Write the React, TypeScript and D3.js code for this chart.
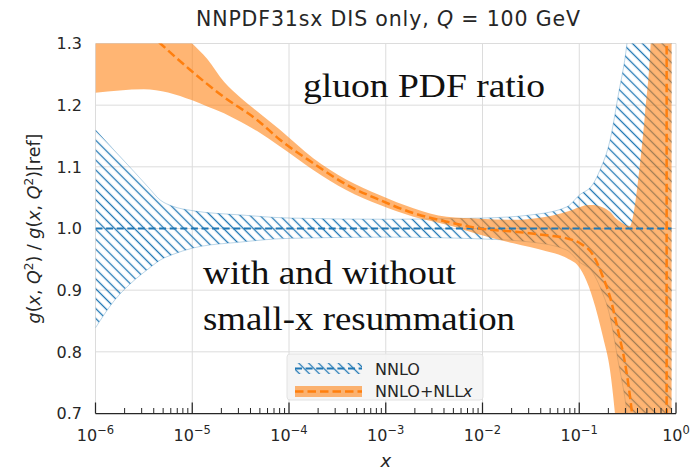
import React from "react";
import * as d3 from "d3";

// ---------- data ----------
// NNLO band (blue, hatched)
const nnloX = [1e-6, 1.58e-6, 2.51e-6, 3.55e-6, 4.68e-6, 6.31e-6, 1e-5, 3.16e-5, 1e-4, 1e-3, 1e-2, 3.16e-2, 7.41e-2, 1e-1, 1.4e-1, 1.64e-1, 2.08e-1, 2.51e-1, 3.11e-1, 4e-1, 9e-1];
const nnloHi = [1.16, 1.126, 1.092, 1.066, 1.046, 1.036, 1.029, 1.022, 1.017, 1.015, 1.017, 1.022, 1.035, 1.054, 1.073, 1.095, 1.143, 1.213, 1.3, 1.5, 3.0];
const nnloLo = [0.839, 0.884, 0.916, 0.935, 0.949, 0.958, 0.968, 0.978, 0.984, 0.986, 0.983, 0.978, 0.965, 0.946, 0.927, 0.905, 0.857, 0.787, 0.7, 0.5, -1.0];
const nnloCentralX = [1e-6, 9e-1];
const nnloCentral = [1.0, 1.0];

// NNLO+NLLx band (orange)
const resX = [1e-6, 3.16e-6, 1e-5, 1.43e-5, 2.13e-5, 3.16e-5, 4.68e-5, 8.07e-5, 1.78e-4, 3.94e-4, 8.73e-4, 1.93e-3, 4.27e-3, 9.42e-3, 2.09e-2, 4.57e-2, 7.41e-2, 1.02e-1, 1.26e-1, 1.39e-1, 1.76e-1, 2.08e-1, 2.34e-1, 2.77e-1, 3.35e-1, 3.51e-1, 4.25e-1, 4.79e-1, 5.47e-1, 9e-1];
const resHi = [1.46, 1.38, 1.3, 1.275, 1.238, 1.212, 1.19, 1.16, 1.114, 1.079, 1.054, 1.033, 1.019, 1.016, 1.014, 1.019, 1.027, 1.035, 1.038, 1.038, 1.034, 1.027, 1.018, 1.009, 1.004, 1.012, 1.106, 1.187, 1.3, 3.0];
const resLo = [1.22, 1.226, 1.208, 1.198, 1.187, 1.173, 1.158, 1.133, 1.095, 1.062, 1.038, 1.019, 1.006, 0.99, 0.976, 0.963, 0.952, 0.935, 0.905, 0.885, 0.824, 0.77, 0.7, 0.55, 0.4, 0.35, 0.2, 0.1, 0.0, -1.0];
const resCentralX = [1e-6, 4.68e-6, 9.55e-6, 2.09e-5, 4.68e-5, 8.07e-5, 1.78e-4, 3.94e-4, 8.73e-4, 1.93e-3, 4.27e-3, 9.42e-3, 2.09e-2, 4.57e-2, 7.41e-2, 1.02e-1, 1.39e-1, 1.76e-1, 2.08e-1, 2.51e-1, 2.97e-1, 3.35e-1, 3.51e-1, 4.47e-1, 6.31e-1, 7.98e-1, 8.02e-1, 9e-1];
const resCentral = [1.4, 1.3, 1.257, 1.214, 1.176, 1.144, 1.106, 1.071, 1.046, 1.025, 1.011, 1.0, 0.995, 0.989, 0.984, 0.976, 0.957, 0.921, 0.889, 0.835, 0.782, 0.727, 0.7, 0.45, 0.0, -5.0, 5.0, 3.0];

const xTickExps = [-6, -5, -4, -3, -2, -1, 0];
const yTicks = [0.7, 0.8, 0.9, 1.0, 1.1, 1.2, 1.3];
const minorMult = [2, 3, 4, 5, 6, 7, 8, 9];

const titleText = "NNPDF31sx DIS only, ";
const legendLabels = ["NNLO", "NNLO+NLL"];

// ---------- layout ----------
const W = 698, H = 473;
const L = 95.5, R = 676, T = 43.5, B = 413.5;
const BLUE = "#1f77b4";
const ORANGE = "#ff7f0e";
const SANS = "'DejaVu Sans', sans-serif";
const SERIF = "'Liberation Serif', 'DejaVu Serif', serif";

export default function App() {
  const x = d3.scaleLog().domain([1e-6, 1]).range([L, R]);
  const y = d3.scaleLinear().domain([0.7, 1.3]).range([B, T]);

  const area = (xs: number[], lo: number[], hi: number[]) =>
    d3.area<number>()
      .x((_, i) => x(xs[i]))
      .y0((_, i) => y(lo[i]))
      .y1((_, i) => y(hi[i]))
      .curve(d3.curveMonotoneX)(xs);
  const edge = (xs: number[], ys: number[]) =>
    d3.line<number>()
      .x((_, i) => x(xs[i]))
      .y((_, i) => y(ys[i]))
      .curve(d3.curveMonotoneX)(xs);

  const minorTicks: number[] = [];
  for (let e = -6; e < 0; e++) for (const m of minorMult) minorTicks.push(m * Math.pow(10, e));

  return (
    <svg width={W} height={H} style={{ display: "block", position: "absolute", left: 0, top: 0 }} fontFamily={SANS}>
      <defs>
        <clipPath id="plotClip">
          <rect x={L} y={T} width={R - L} height={B - T} />
        </clipPath>
        <pattern id="hatch" patternUnits="userSpaceOnUse" width={7} height={7} patternTransform="rotate(45)">
          <line x1={0} y1={3.5} x2={7} y2={3.5} stroke={BLUE} strokeWidth={1.3} />
        </pattern>
      </defs>
      <rect x={0} y={0} width={W} height={H} fill="#fff" />

      {/* grid */}
      <g stroke="#dcdcdc" strokeWidth={1}>
        {xTickExps.map((e) => (
          <line key={"gx" + e} x1={x(Math.pow(10, e))} x2={x(Math.pow(10, e))} y1={T} y2={B} />
        ))}
        {yTicks.map((v) => (
          <line key={"gy" + v} x1={L} x2={R} y1={y(v)} y2={y(v)} />
        ))}
      </g>

      <g clipPath="url(#plotClip)">
        {/* NNLO hatched band */}
        <path d={area(nnloX, nnloLo, nnloHi) || ""} fill="url(#hatch)" stroke="none" />
        <path d={edge(nnloX, nnloHi) || ""} fill="none" stroke={BLUE} strokeOpacity={0.3} strokeWidth={1} />
        <path d={edge(nnloX, nnloLo) || ""} fill="none" stroke={BLUE} strokeOpacity={0.3} strokeWidth={1} />
        {/* resummed band */}
        <path d={area(resX, resLo, resHi) || ""} fill={ORANGE} fillOpacity={0.58} stroke="none" />
        {/* central lines */}
        <path d={edge(nnloCentralX, nnloCentral) || ""} fill="none" stroke={BLUE} strokeWidth={2} strokeDasharray="7,3.6" />
        <path d={edge(resCentralX, resCentral) || ""} fill="none" stroke={ORANGE} strokeWidth={2.5} strokeDasharray="8.5,4" />
      </g>

      {/* bottom axis */}
      <line x1={L} x2={R} y1={B} y2={B} stroke="#262626" strokeWidth={1.25} />
      <g stroke="#262626">
        {xTickExps.map((e) => (
          <line key={"mt" + e} x1={x(Math.pow(10, e))} x2={x(Math.pow(10, e))} y1={B} y2={B - 11} strokeWidth={1.25} />
        ))}
        {minorTicks.map((v, i) => (
          <line key={"mn" + i} x1={x(v)} x2={x(v)} y1={B} y2={B - 5.5} strokeWidth={1} />
        ))}
      </g>
      <g fill="#262626" fontSize={16}>
        {xTickExps.map((e) => (
          <text key={"xl" + e} x={x(Math.pow(10, e))} y={441} textAnchor="middle">
            10
            <tspan fontSize={11.5} dy={-7}>{e === 0 ? "0" : "\u2212" + Math.abs(e)}</tspan>
          </text>
        ))}
        {yTicks.map((v) => (
          <text key={"yl" + v} x={82} y={y(v) + 5.8} textAnchor="end">
            {v.toFixed(1)}
          </text>
        ))}
      </g>

      {/* axis labels */}
      <text x={(L + R) / 2} y={467} textAnchor="middle" fontSize={18} fontStyle="italic" fill="#262626">x</text>
      <text transform={`translate(40, ${(T + B) / 2}) rotate(-90)`} textAnchor="middle" fontSize={17.5} fill="#262626">
        <tspan fontStyle="italic">g</tspan>(<tspan fontStyle="italic">x</tspan>, <tspan fontStyle="italic">Q</tspan>
        <tspan fontSize={12} dy={-7}>2</tspan>
        <tspan dy={7}>) / </tspan>
        <tspan fontStyle="italic">g</tspan>(<tspan fontStyle="italic">x</tspan>, <tspan fontStyle="italic">Q</tspan>
        <tspan fontSize={12} dy={-7}>2</tspan>
        <tspan dy={7}>)[ref]</tspan>
      </text>

      {/* title */}
      <text x={388} y={26} textAnchor="middle" fontSize={20.5} fill="#262626" textLength={384} lengthAdjust="spacing">
        {titleText}
        <tspan fontStyle="italic">Q</tspan> = 100 GeV
      </text>

      {/* legend */}
      <rect x={287} y={354} width={196} height={46} rx={3} fill="#f4f4f4" fillOpacity={0.9} stroke="#e2e2e2" strokeWidth={1} />
      <rect x={295} y={363} width={67} height={11} fill="url(#hatch)" />
      <line x1={295} x2={362} y1={368.5} y2={368.5} stroke={BLUE} strokeWidth={2} strokeDasharray="7,3.6" />
      <rect x={295} y={386} width={67} height={11} fill={ORANGE} fillOpacity={0.58} />
      <line x1={295} x2={362} y1={391.5} y2={391.5} stroke={ORANGE} strokeWidth={2.5} strokeDasharray="8.5,4" />
      <text x={375} y={375} fontSize={16} fill="#262626">{legendLabels[0]}</text>
      <text x={375} y={397} fontSize={16} fill="#262626">
        {legendLabels[1]}
        <tspan fontStyle="italic">x</tspan>
      </text>

      {/* annotations */}
      <g fontFamily={SERIF} fill="#111" fontSize={33}>
        <text x={303} y={97} textLength={242} lengthAdjust="spacingAndGlyphs">gluon PDF ratio</text>
        <text x={203} y={284} textLength={253} lengthAdjust="spacingAndGlyphs">with and without</text>
        <text x={203} y={330} textLength={312} lengthAdjust="spacingAndGlyphs">small-x resummation</text>
      </g>
    </svg>
  );
}
